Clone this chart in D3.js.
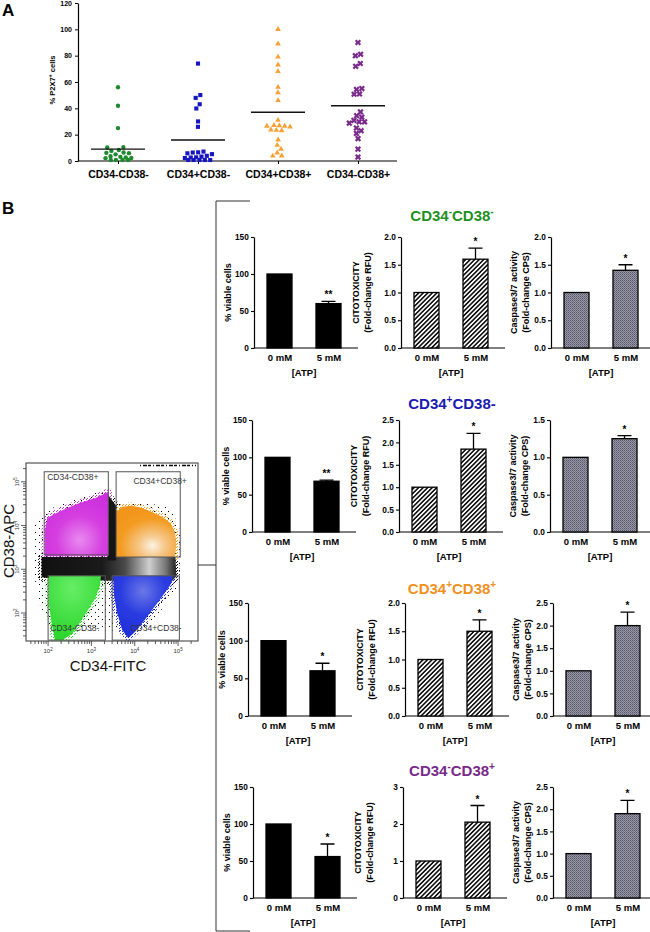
<!DOCTYPE html>
<html>
<head>
<meta charset="utf-8">
<script src="https://cdn.jsdelivr.net/npm/d3@7"></script>
<style>
  body { margin: 0; background: #fff; }
  svg text { font-family: "Liberation Sans", Arial, sans-serif; }
</style>
</head>
<body>
<script>
const width = 650, height = 932;

// ---------- panel A data ----------
const groups = ["CD34-CD38-", "CD34+CD38-", "CD34+CD38+", "CD34-CD38+"];
const groupColors = ["#1e8a2e", "#1616c0", "#f7a035", "#7a2a8a"];
const p2x7NegNeg = [56, 42, 25, 9, 9, 8, 7, 6, 6, 5, 5, 4, 4, 3, 3, 2, 1, 1, 0, 0];
const p2x7PosNeg = [74, 50, 48, 43, 40, 30, 26, 6, 5, 5, 5, 4, 6, 4, 2, 2, 2, 1, 1, 0, 0, 1];
const p2x7PosPos = [100, 89, 79, 73, 68, 56, 52, 46, 31, 26, 26, 26, 25, 26, 26, 24, 24, 16, 12, 9, 6, 4, 4];
const p2x7NegPos = [90, 81, 80, 74, 72, 55, 54, 51, 51, 37, 34, 33, 31, 30, 29, 30, 25, 23, 21, 17, 9, 3];
const p2x7Means = [9, 16, 37, 42];
const p2x7Ticks = [0, 20, 40, 60, 80, 100, 120];

// ---------- panel B data ----------
const doses = ["0 mM", "5 mM"];
const viability = [[100, 60], [100, 68], [100, 60], [100, 56]];
const viabilityErr = [[0, 3], [0, 1.5], [0, 10], [0, 17]];
const cytotox = [[1, 1.6], [1, 1.85], [1, 1.5], [1, 2.05]];
const cytotoxErr = [[0, 0.2], [0, 0.35], [0, 0.2], [0, 0.45]];
const caspase = [[1, 1.4], [1, 1.25], [1, 2.0], [1, 1.9]];
const caspaseErr = [[0, 0.1], [0, 0.04], [0, 0.3], [0, 0.3]];
const signif = [["**", "*", "*"], ["**", "*", "*"], ["*", "*", "*"], ["*", "*", "*"]];
const viabilityTicks = [0, 50, 100, 150];
const cytotoxTicks = [[0, 0.5, 1, 1.5, 2], [0, 0.5, 1, 1.5, 2, 2.5], [0, 0.5, 1, 1.5, 2], [0, 1, 2, 3]];
const caspaseTicks = [[0, 0.5, 1, 1.5, 2], [0, 0.5, 1, 1.5], [0, 0.5, 1, 1.5, 2, 2.5], [0, 0.5, 1, 1.5, 2, 2.5]];
// titles: [text, superscript?]
const titles = [
    [["CD34", 0], ["-", 1], ["CD38", 0], ["-", 1]],
    [["CD34", 0], ["+", 1], ["CD38-", 0]],
    [["CD34", 0], ["+", 1], ["CD38", 0], ["+", 1]],
    [["CD34", 0], ["-", 1], ["CD38", 0], ["+", 1]]
];
const titleColors = ["#1f8f1f", "#1a1ab0", "#f0901e", "#7a2a8a"];

// ---------- flow plot data (log10 units: [CD34-FITC, CD38-APC]) ----------
const gates = [
    {label: "CD34-CD38+", x: [1.91, 3.39], y: [3.33, 5.23], lx: 1.98, ly: 5.05},
    {label: "CD34+CD38+", x: [3.57, 5.05], y: [3.28, 5.23], lx: 3.97, ly: 4.95},
    {label: "CD34-CD38-", x: [2.00, 3.32], y: [1.38, 2.85], lx: 2.05, ly: 1.60},
    {label: "CD34+CD38-", x: [3.48, 5.03], y: [1.38, 2.85], lx: 3.90, ly: 1.60}
];
const halo = [[1.70, 4.05], [1.95, 4.35], [3.20, 4.80], [3.60, 4.55], [4.82, 4.45], [5.08, 3.80], [5.05, 2.70], [4.90, 2.40], [4.20, 1.60], [2.10, 1.60], [1.75, 2.30], [1.65, 3.20]];
const popPurple = [[1.93, 3.30], [1.93, 3.90], [1.98, 4.17], [2.16, 4.27], [2.39, 4.38], [2.74, 4.52], [3.09, 4.63], [3.29, 4.72], [3.39, 4.77], [3.39, 3.30]];
const popOrange = [[3.57, 3.28], [3.57, 4.31], [3.71, 4.43], [3.94, 4.45], [4.17, 4.40], [4.40, 4.31], [4.63, 4.20], [4.82, 4.06], [4.93, 3.85], [4.96, 3.56], [4.93, 3.28]];
const popBand = [[1.85, 3.28], [4.94, 3.28], [4.96, 2.84], [4.82, 2.68], [4.12, 2.78], [3.43, 2.74], [2.28, 2.78], [1.85, 2.82]];
const popStrip = [[3.37, 4.72], [3.57, 4.45], [3.57, 3.20], [3.37, 3.20]];
const popGreen = [[2.02, 2.85], [3.22, 2.85], [3.20, 2.64], [3.09, 2.34], [2.92, 2.07], [2.74, 1.79], [2.55, 1.52], [2.32, 1.38], [2.16, 1.38], [2.09, 1.73], [2.02, 2.18]];
const popBlue = [[3.50, 2.85], [4.89, 2.85], [4.82, 2.64], [4.63, 2.37], [4.40, 2.07], [4.19, 1.79], [4.01, 1.57], [3.85, 1.43], [3.71, 1.61], [3.59, 2.02], [3.52, 2.41]];
const flowDecades = [2, 3, 4, 5];

const svg = d3.select("body").append("svg").attr("width", width).attr("height", height);
const defs = svg.append("defs");

// patterns
const hatch = defs.append("pattern").attr("id", "hatch").attr("patternUnits", "userSpaceOnUse")
    .attr("width", 3.2).attr("height", 3.2).attr("patternTransform", "rotate(45)");
hatch.append("rect").attr("width", 3.2).attr("height", 3.2).attr("fill", "#fff");
hatch.append("rect").attr("width", 1.6).attr("height", 3.2).attr("fill", "#111");

const dots = defs.append("pattern").attr("id", "dots").attr("patternUnits", "userSpaceOnUse")
    .attr("width", 2).attr("height", 2);
dots.append("rect").attr("width", 2).attr("height", 2).attr("fill", "#9898a8");
dots.append("rect").attr("width", 1).attr("height", 1).attr("fill", "#555566");
dots.append("rect").attr("x", 1).attr("y", 1).attr("width", 1).attr("height", 1).attr("fill", "#707080");

function speckle(id, color, size) {
    const p = defs.append("pattern").attr("id", id).attr("patternUnits", "userSpaceOnUse")
        .attr("width", size).attr("height", size);
    p.append("rect").attr("x", 0).attr("y", 0).attr("width", 1).attr("height", 1).attr("fill", color);
    p.append("rect").attr("x", Math.round(size * 0.6)).attr("y", Math.round(size * 0.45)).attr("width", 1).attr("height", 1).attr("fill", color);
}
speckle("spk-halo", "#000", 7);
speckle("spk-black", "#000", 3);
speckle("spk-purple", "#cc33dd", 3);
speckle("spk-orange", "#f39a1e", 3);
speckle("spk-green", "#33dd33", 3);
speckle("spk-blue", "#2030dd", 3);

function radial(id, cx, cy, stops) {
    const g = defs.append("radialGradient").attr("id", id).attr("cx", cx).attr("cy", cy).attr("r", 0.75);
    stops.forEach(s => g.append("stop").attr("offset", s[0]).attr("stop-color", s[1]));
}
radial("g-orange", 0.6, 0.78, [[0, "#fbf3e4"], [0.3, "#f6c585"], [0.7, "#f39c22"], [1, "#f2951a"]]);
radial("g-purple", 0.55, 0.75, [[0, "#e88af0"], [0.5, "#d53fe0"], [1, "#cc2edc"]]);
radial("g-blue", 0.5, 0.25, [[0, "#6a78e6"], [0.5, "#2a3ce0"], [1, "#1f2fd8"]]);
radial("g-green", 0.45, 0.2, [[0, "#66ee66"], [1, "#2ed62e"]]);
const bandGrad = defs.append("linearGradient").attr("id", "g-band");
[[0, "#111"], [0.45, "#1a1a1a"], [0.62, "#4a4a4a"], [0.8, "#cfcfcf"], [0.92, "#777"], [1, "#222"]]
    .forEach(s => bandGrad.append("stop").attr("offset", s[0]).attr("stop-color", s[1]));

// ================= Panel A =================
svg.append("text").attr("x", 2).attr("y", 16).attr("font-size", 17).attr("font-weight", "bold").text("A");

const yA = d3.scaleLinear().domain([0, 120]).range([161, 3]);
const xA = d3.scalePoint().domain(groups).range([118, 358]);

const gA = svg.append("g");
gA.append("g").attr("transform", "translate(78,0)")
    .call(d3.axisLeft(yA).tickValues(p2x7Ticks).tickSize(3).tickSizeOuter(0))
    .call(g => g.select(".domain").attr("stroke-width", 1.2))
    .call(g => g.selectAll("text").attr("font-size", 7).attr("font-weight", "bold").attr("font-family", "Liberation Sans, Arial"));
gA.append("g").attr("transform", "translate(0,161)")
    .call(d3.axisBottom(xA).tickSize(3))
    .call(g => g.select(".domain").remove())
    .call(g => g.selectAll("text").attr("font-size", 10.5).attr("font-weight", "bold").attr("dy", "1.05em").attr("font-family", "Liberation Sans, Arial"));
gA.append("line").attr("x1", 78).attr("x2", 397).attr("y1", 161).attr("y2", 161).attr("stroke", "#000").attr("stroke-width", 1.2);

const yLabA = gA.append("text").attr("transform", "translate(55,80) rotate(-90)")
    .attr("text-anchor", "middle").attr("font-size", 7.5).attr("font-weight", "bold");
yLabA.append("tspan").text("% P2X7");
yLabA.append("tspan").attr("dy", -3).attr("font-size", 5.5).text("+");
yLabA.append("tspan").attr("dy", 3).text(" cells");

const groupValues = [p2x7NegNeg, p2x7PosNeg, p2x7PosPos, p2x7NegPos];
const symbols = [
    d3.symbol().type(d3.symbolCircle).size(15),
    d3.symbol().type(d3.symbolSquare).size(17),
    d3.symbol().type(d3.symbolTriangle).size(14),
    d3.symbol().type(d3.symbolCross).size(24)
];

function swarm(values, cx) {
    const nodes = values.map((v, i) => ({v: v, x: cx + (i % 2 ? 1 : -1) * (i % 5), y: yA(v)}));
    const sim = d3.forceSimulation(nodes)
        .force("x", d3.forceX(cx).strength(0.06))
        .force("y", d3.forceY(d => yA(d.v)).strength(1))
        .force("collide", d3.forceCollide(2.7))
        .stop();
    for (let i = 0; i < 250; i++) sim.tick();
    return nodes;
}

groupValues.forEach((vals, gi) => {
    const cx = xA(groups[gi]);
    const nodes = swarm(vals, cx);
    gA.append("g").selectAll("path").data(nodes).join("path")
        .attr("d", symbols[gi])
        .attr("transform", d => `translate(${d.x},${Math.min(d.y, 160)})` + (gi === 3 ? " rotate(45)" : ""))
        .attr("fill", groupColors[gi]);
    gA.append("line").attr("x1", cx - 27).attr("x2", cx + 27)
        .attr("y1", yA(p2x7Means[gi])).attr("y2", yA(p2x7Means[gi]))
        .attr("stroke", "#111").attr("stroke-width", 1.4);
});

// ================= Panel B =================
svg.append("text").attr("x", 2).attr("y", 214).attr("font-size", 17).attr("font-weight", "bold").text("B");

// bracket
const br = svg.append("g").attr("stroke", "#333").attr("stroke-width", 1).attr("fill", "none");
br.append("path").attr("d", "M250,201H216V931H250");
br.append("line").attr("x1", 198).attr("x2", 216).attr("y1", 565).attr("y2", 565);

// ----- flow cytometry dot plot -----
const fx = d3.scaleLog().domain([Math.pow(10, 1.49), Math.pow(10, 5.46)]).range([26, 198]);
const fy = d3.scaleLog().domain([Math.pow(10, 1.36), Math.pow(10, 5.43)]).range([641, 463]);
const poly = d3.line().x(d => fx(Math.pow(10, d[0]))).y(d => fy(Math.pow(10, d[1]))).curve(d3.curveLinearClosed);

const gF = svg.append("g");
gF.append("rect").attr("x", 26).attr("y", 463).attr("width", 172).attr("height", 178)
    .attr("fill", "#fff").attr("stroke", "#333").attr("stroke-width", 1);
const plotClip = defs.append("clipPath").attr("id", "flowclip");
plotClip.append("rect").attr("x", 26).attr("y", 463).attr("width", 172).attr("height", 178);
const gP = gF.append("g").attr("clip-path", "url(#flowclip)");

gP.append("path").attr("d", poly(halo)).attr("fill", "url(#spk-halo)");
gP.append("line").attr("x1", 140).attr("x2", 196).attr("y1", 465.5).attr("y2", 465.5)
    .attr("stroke", "#000").attr("stroke-width", 1.4).attr("stroke-dasharray", "1,2,4,1,3,2");

const pops = [
    [popBand, "url(#g-band)", "url(#spk-black)"],
    [popStrip, "#151515", "url(#spk-black)"],
    [popPurple, "url(#g-purple)", "url(#spk-purple)"],
    [popOrange, "url(#g-orange)", "url(#spk-orange)"],
    [popGreen, "url(#g-green)", "url(#spk-green)"],
    [popBlue, "url(#g-blue)", "url(#spk-blue)"]
];
pops.forEach(p => {
    gP.append("path").attr("d", poly(p[0])).attr("fill", "none").attr("stroke", p[2]).attr("stroke-width", 7)
        .attr("stroke-linejoin", "round");
});
pops.forEach(p => {
    gP.append("path").attr("d", poly(p[0])).attr("fill", p[1]);
});

// gates
gates.forEach(g => {
    gF.append("rect")
        .attr("x", fx(Math.pow(10, g.x[0]))).attr("y", fy(Math.pow(10, g.y[1])))
        .attr("width", fx(Math.pow(10, g.x[1])) - fx(Math.pow(10, g.x[0])))
        .attr("height", fy(Math.pow(10, g.y[0])) - fy(Math.pow(10, g.y[1])))
        .attr("fill", "none").attr("stroke", "#555").attr("stroke-width", 1);
    gF.append("text").attr("x", fx(Math.pow(10, g.lx))).attr("y", fy(Math.pow(10, g.ly)))
        .attr("font-size", 8.5).attr("fill", "#333").text(g.label);
});

// flow axes
const xTicks = fx.ticks().filter(t => t >= 30);
gF.append("g").selectAll("line").data(xTicks).join("line")
    .attr("x1", d => fx(d)).attr("x2", d => fx(d)).attr("y1", 641)
    .attr("y2", d => flowDecades.some(e => Math.abs(Math.log10(d) - e) < 1e-6) ? 646 : 644)
    .attr("stroke", "#333").attr("stroke-width", 0.8);
const yTicks = fy.ticks().filter(t => t >= 25);
gF.append("g").selectAll("line").data(yTicks).join("line")
    .attr("y1", d => fy(d)).attr("y2", d => fy(d)).attr("x1", 26)
    .attr("x2", d => flowDecades.some(e => Math.abs(Math.log10(d) - e) < 1e-6) ? 21 : 23)
    .attr("stroke", "#333").attr("stroke-width", 0.8);

flowDecades.forEach(e => {
    const tx = gF.append("text").attr("x", fx(Math.pow(10, e))).attr("y", 653)
        .attr("text-anchor", "middle").attr("font-size", 6).attr("fill", "#333");
    tx.append("tspan").text("10");
    tx.append("tspan").attr("dy", -2.5).attr("font-size", 4.5).text(e);
    const ty = gF.append("text").attr("transform", `translate(19,${fy(Math.pow(10, e))}) rotate(-90)`)
        .attr("text-anchor", "middle").attr("font-size", 6).attr("fill", "#333");
    ty.append("tspan").text("10");
    ty.append("tspan").attr("dy", -2.5).attr("font-size", 4.5).text(e);
});
gF.append("text").attr("x", 108).attr("y", 671).attr("text-anchor", "middle")
    .attr("font-size", 15).attr("fill", "#111").text("CD34-FITC");
gF.append("text").attr("transform", "translate(14,541) rotate(-90)").attr("text-anchor", "middle")
    .attr("font-size", 15).attr("fill", "#111").text("CD38-APC");

// ----- bar charts -----
const rowLayout = [
    {top: 237, bottom: 348, axes: [254, 401, 551], titleY: 221},
    {top: 420, bottom: 532, axes: [252, 399, 550], titleY: 409},
    {top: 603, bottom: 716, axes: [248, 405, 553], titleY: 594},
    {top: 787, bottom: 898, axes: [253, 403, 553], titleY: 776}
];
const assays = [
    {vals: viability, errs: viabilityErr, ticks: () => viabilityTicks, fmt: d3.format("d"), fill: "#000",
        label: ["% viable cells"], labelDx: [-23]},
    {vals: cytotox, errs: cytotoxErr, ticks: r => cytotoxTicks[r], fmt: null, fill: "url(#hatch)",
        label: ["CITOTOXICITY", "(Fold-change RFU)"], labelDx: [-42, -30]},
    {vals: caspase, errs: caspaseErr, ticks: r => caspaseTicks[r], fmt: d3.format(".1f"), fill: "url(#dots)",
        label: ["Caspase3/7 activity", "(Fold-change CPS)"], labelDx: [-34, -22]}
];

function drawBarChart(r, a) {
    const lay = rowLayout[r];
    const x0 = lay.axes[a];
    const assay = assays[a];
    const ticks = assay.ticks(r);
    const y = d3.scaleLinear().domain([0, d3.max(ticks)]).range([lay.bottom, lay.top]);
    const x = d3.scalePoint().domain(doses).range([x0 + 25.5, x0 + 74.5]);
    const barW = 25;
    const fmt = assay.fmt || (d3.max(ticks) === 3 ? d3.format("d") : d3.format(".1f"));
    const g = svg.append("g");

    g.append("g").attr("transform", `translate(${x0},0)`)
        .call(d3.axisLeft(y).tickValues(ticks).tickFormat(fmt).tickSize(3).tickSizeOuter(0))
        .call(s => s.select(".domain").attr("stroke-width", 1.2))
        .call(s => s.selectAll("line").attr("stroke-width", 1.1))
        .call(s => s.selectAll("text").attr("font-size", 8.3).attr("font-weight", "bold")
            .attr("font-family", "Liberation Sans, Arial").attr("dx", "0.1em"));
    g.append("g").attr("transform", `translate(0,${lay.bottom})`)
        .call(d3.axisBottom(x).tickSize(0).tickPadding(6))
        .call(s => s.select(".domain").remove())
        .call(s => s.selectAll("text").attr("font-size", 9.5).attr("font-weight", "bold")
            .attr("font-family", "Liberation Sans, Arial"));
    g.append("line").attr("x1", x0).attr("x2", x0 + 104).attr("y1", lay.bottom).attr("y2", lay.bottom)
        .attr("stroke", "#000").attr("stroke-width", 1.2);
    g.append("text").attr("x", x0 + 50).attr("y", lay.bottom + 28).attr("text-anchor", "middle")
        .attr("font-size", 9.5).attr("font-weight", "bold").text("[ATP]");

    const cy = (lay.top + lay.bottom) / 2;
    assay.label.forEach((t, i) => {
        g.append("text").attr("transform", `translate(${x0 + assay.labelDx[i]},${cy}) rotate(-90)`)
            .attr("text-anchor", "middle").attr("font-size", 9).attr("font-weight", "bold").text(t);
    });

    const data = doses.map((d, i) => ({dose: d, v: assay.vals[r][i], e: assay.errs[r][i]}));
    g.selectAll(".err").data(data.filter(d => d.e > 0)).join("path")
        .attr("d", d => `M${x(d.dose)},${y(d.v)}V${y(d.v + d.e)}M${x(d.dose) - 7},${y(d.v + d.e)}H${x(d.dose) + 7}`)
        .attr("stroke", "#000").attr("stroke-width", 1.3).attr("fill", "none");
    g.selectAll(".bar").data(data).join("rect")
        .attr("x", d => x(d.dose) - barW / 2).attr("width", barW)
        .attr("y", d => y(d.v)).attr("height", d => y(0) - y(d.v))
        .attr("fill", assay.fill).attr("stroke", "#000").attr("stroke-width", 1.3);
    const last = data[1];
    g.append("text").attr("x", x(last.dose)).attr("y", y(last.v + last.e) - 3)
        .attr("text-anchor", "middle").attr("font-size", 10).attr("font-weight", "bold").text(signif[r][a]);
}

rowLayout.forEach((lay, r) => {
    const t = svg.append("text").attr("x", 452).attr("y", lay.titleY).attr("text-anchor", "middle")
        .attr("font-size", 15).attr("font-weight", "bold").attr("fill", titleColors[r]);
    titles[r].forEach(([s, sup], i) => {
        const prevSup = i > 0 && titles[r][i - 1][1];
        const ts = t.append("tspan").text(s);
        if (sup) ts.attr("dy", -6).attr("font-size", 10);
        else if (prevSup) ts.attr("dy", 6);
    });
    for (let a = 0; a < 3; a++) drawBarChart(r, a);
});
</script>
</body>
</html>
